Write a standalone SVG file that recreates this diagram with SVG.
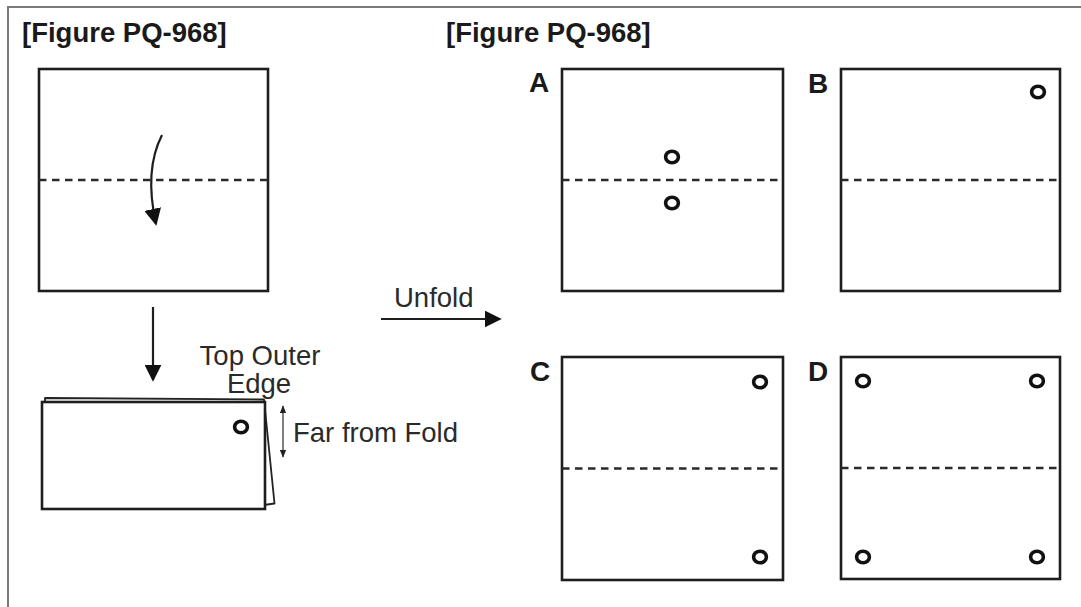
<svg xmlns="http://www.w3.org/2000/svg" width="1081" height="607" viewBox="0 0 1081 607">
<style>
.frame{fill:none;stroke:#7a7a7a;stroke-width:2}
.sq{fill:#fff;stroke:#1e1e1e;stroke-width:2.6}
.dash{stroke:#2a2a2a;stroke-width:2.6;stroke-dasharray:7.5,5.5;fill:none}
.hole{fill:none;stroke:#111;stroke-width:3.6}
.title{font-family:"Liberation Sans",Arial,sans-serif;font-weight:bold;font-size:27.5px;fill:#1a1a1a}
.lbl{font-family:"Liberation Sans",Arial,sans-serif;font-weight:bold;font-size:28px;fill:#1a1a1a}
.txt{font-family:"Liberation Sans",Arial,sans-serif;font-size:27.5px;fill:#2a2a2a}
.arr{fill:none;stroke:#1e1e1e;stroke-width:2.2}
.thin{fill:none;stroke:#555;stroke-width:1.5}
</style>
<defs>
<marker id="ahb" viewBox="0 0 10 10" refX="9" refY="5" markerWidth="17" markerHeight="17" markerUnits="userSpaceOnUse" orient="auto">
<path d="M0,0 L10,5 L0,10 Z" fill="#111"/>
</marker>
<marker id="ahs" viewBox="0 0 10 10" refX="9" refY="5" markerWidth="8" markerHeight="8" markerUnits="userSpaceOnUse" orient="auto-start-reverse">
<path d="M0,1 L10,5 L0,9 Z" fill="#222"/>
</marker>
</defs>
<rect class="frame" x="8" y="7" width="1100" height="620"/>
<text class="title" x="22" y="42">[Figure PQ-968]</text>
<text class="title" x="446" y="42">[Figure PQ-968]</text>

<g id="original-sheet">
<rect class="sq" x="39" y="69" width="229" height="222"/>
<line class="dash" x1="39" y1="180" x2="268" y2="180"/>
</g>

<g id="folded-sheet">
<polygon points="45,398 264,399.5 274.5,503.5 264,505 45,404" fill="#fff" stroke="#222" stroke-width="1.8" stroke-linejoin="round"/>
<rect class="sq" x="42" y="402" width="223" height="107"/>
<ellipse class="hole" cx="241" cy="427" rx="6.4" ry="5.8"/>
<text class="txt" x="260" y="365" text-anchor="middle">Top Outer</text>
<text class="txt" x="259" y="393" text-anchor="middle">Edge</text>
<text class="txt" x="293" y="442">Far from Fold</text>
</g>

<g id="option-A">
<text class="lbl" x="529" y="92">A</text>
<rect class="sq" x="562" y="69" width="221" height="222"/>
<line class="dash" x1="562" y1="180" x2="783" y2="180"/>
<ellipse class="hole" cx="672" cy="157" rx="6.4" ry="5.8"/>
<ellipse class="hole" cx="672" cy="203" rx="6.4" ry="5.8"/>
</g>

<g id="option-B">
<text class="lbl" x="808" y="93">B</text>
<rect class="sq" x="841" y="69" width="219" height="222"/>
<line class="dash" x1="841" y1="180" x2="1060" y2="180"/>
<ellipse class="hole" cx="1038" cy="92" rx="6.4" ry="5.8"/>
</g>

<g id="option-C">
<text class="lbl" x="530" y="381">C</text>
<rect class="sq" x="562" y="357" width="221" height="223"/>
<line class="dash" x1="562" y1="468.5" x2="783" y2="468.5"/>
<ellipse class="hole" cx="760" cy="382" rx="6.4" ry="5.8"/>
<ellipse class="hole" cx="760" cy="557" rx="6.4" ry="5.8"/>
</g>

<g id="option-D">
<text class="lbl" x="808" y="381">D</text>
<rect class="sq" x="841" y="357" width="219" height="222"/>
<line class="dash" x1="841" y1="468" x2="1060" y2="468"/>
<ellipse class="hole" cx="863" cy="381" rx="6.4" ry="5.8"/>
<ellipse class="hole" cx="1037" cy="381" rx="6.4" ry="5.8"/>
<ellipse class="hole" cx="863" cy="557" rx="6.4" ry="5.8"/>
<ellipse class="hole" cx="1037" cy="557" rx="6.4" ry="5.8"/>
</g>

<g id="connectors">
<path class="arr" d="M162,135 Q144,170 156,224" marker-end="url(#ahb)"/>
<line class="arr" x1="153" y1="307" x2="153" y2="380" marker-end="url(#ahb)"/>
<line class="arr" x1="381" y1="319" x2="500" y2="319" marker-end="url(#ahb)"/>
<text class="txt" x="394" y="307">Unfold</text>
<line class="thin" x1="283" y1="406" x2="283" y2="457" marker-start="url(#ahs)" marker-end="url(#ahs)"/>
</g>
</svg>
